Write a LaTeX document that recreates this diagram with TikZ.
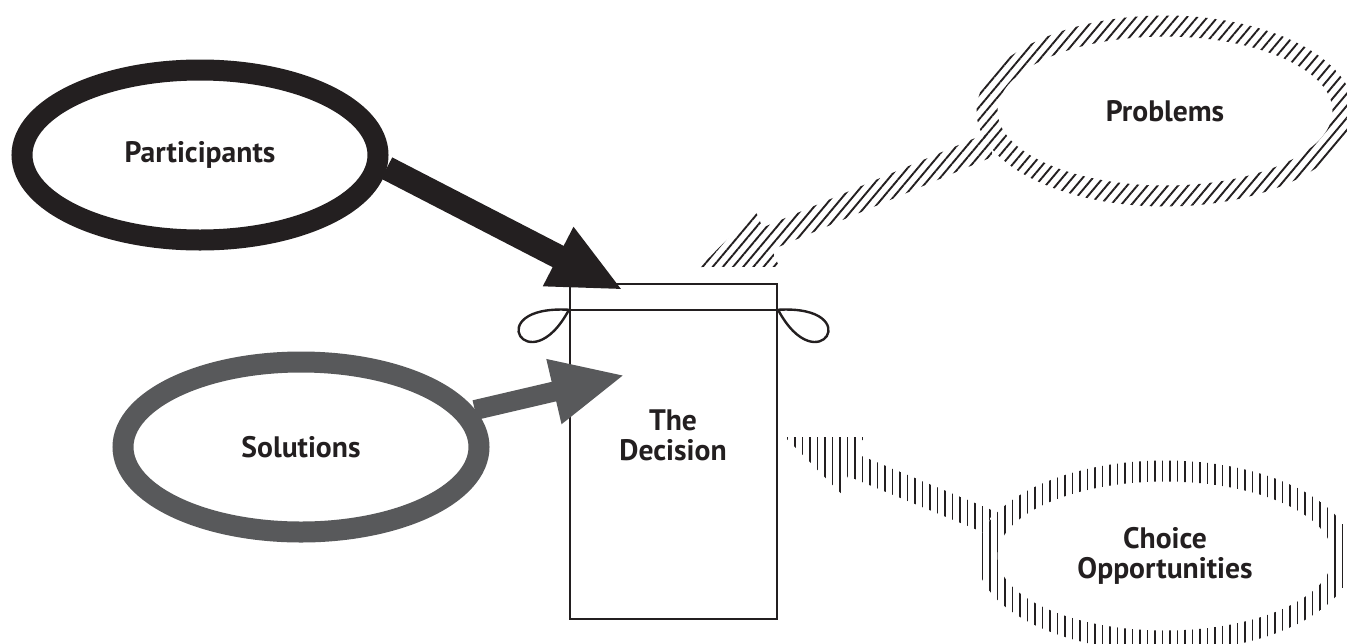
\documentclass[tikz,border=0pt]{standalone}
\usepackage{fontspec}
\setmainfont{PT Sans}
\usetikzlibrary{arrows.meta,calc,shapes.geometric,patterns.meta}
\definecolor{ink}{HTML}{231F20}
\definecolor{slate}{HTML}{58595B}
% hatched arrow: style, start, tip
\newcommand{\hatcharrow}[3]{%
  \path ($(#3)!36.5pt!(#2)$) coordinate (hb);
  \fill[#1] ($(#2)!6pt!90:(#3)$) -- ($(hb)!6pt!90:(#3)$) -- ($(hb)!15.25pt!90:(#3)$) -- (#3)
    -- ($(hb)!15.25pt!-90:(#3)$) -- ($(hb)!6pt!-90:(#3)$) -- ($(#2)!6pt!-90:(#3)$) -- cycle;}

\begin{document}
\begin{tikzpicture}[x=0.5pt,y=-0.5pt,font=\bfseries\fontsize{14.8}{15}\selectfont,text=ink,
  blob/.style={ellipse,draw=ink,line width=10.5pt,minimum width=178pt,minimum height=85pt,inner sep=0pt},
  ghost/.style={blob,draw=none,align=center},
  slash/.style={pattern={Lines[angle=50,distance=3.9pt,line width=0.95pt]},pattern color=ink},
  bars/.style={pattern={Lines[angle=90,distance=3.75pt,line width=0.8pt]},pattern color=ink},
  fat/.style={line width=12pt,-{Triangle[length=36.5pt,width=30.5pt]}}]
\useasboundingbox (0,0) rectangle (1347,643);
\node[blob] (part) at (200,155) {Participants};
\node[blob,draw=slate] (sol) at (301,447) {Solutions};
\node[ghost] (prob) at (1165,111) {Problems};
\node[ghost] (cho) at (1165,556) {Choice\\Opportunities};
\node[draw=ink,line width=1.25pt,minimum width=103.3pt,minimum height=167.3pt,inner sep=0pt] (bag) at (673.5,451.5) {};
\node[align=center] (dec) at (673,435) {The\\Decision};
% the tie round the bag
\coordinate (tl) at ($(bag.north west)+(0,26.8)$);
\coordinate (tr) at ($(bag.north east)+(0,26.8)$);
\draw[ink,line width=1.25pt] (tl) -- (tr);
\draw[ink,line width=1.2pt] (tl) .. controls +(-90,-5) and +(-40,75) .. (tl);
\draw[ink,line width=1.2pt] (tr) .. controls +(90,-5) and +(40,75) .. (tr);
% streams into the bag
\coordinate (ptip) at (623,290);
\coordinate (stip) at (625,375);
\coordinate (qtip) at (700,267);
\coordinate (ctip) at (785,437);
\draw[fat,ink] (part.-4) -- (ptip);
\draw[fat,slate,line width=10pt] (sol.12) -- (stip);
\fill[slash,even odd rule] (prob) ellipse [x radius=188.5,y radius=95.5] (prob) ellipse [x radius=167.5,y radius=74.5];
\hatcharrow{slash}{prob.191}{qtip}
\fill[bars,even odd rule] (cho) ellipse [x radius=188.5,y radius=95.5] (cho) ellipse [x radius=167.5,y radius=74.5];
\hatcharrow{bars}{cho.169}{ctip}
\end{tikzpicture}
\end{document}
